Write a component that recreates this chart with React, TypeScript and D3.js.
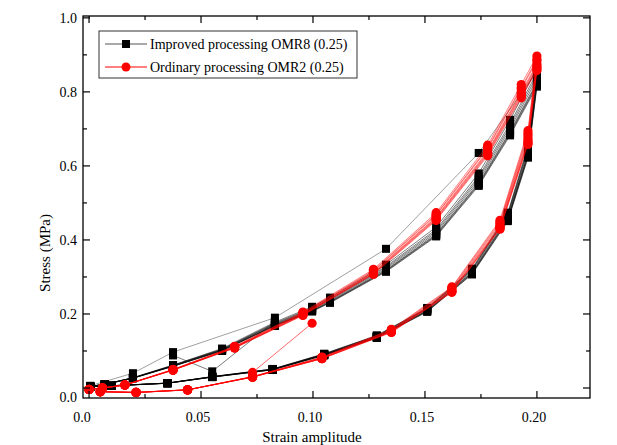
import React from "react";
import * as d3 from "d3";

// ---------- data ----------
// Improved processing OMR8 (0.25): typical cycle
const omr8LoadStrain = [0.0005, 0.007, 0.0196, 0.0375, 0.0594, 0.083, 0.0996, 0.1076, 0.1326, 0.155, 0.174, 0.188, 0.2];
const omr8LoadStress = [0.004, 0.01, 0.027, 0.06, 0.103, 0.172, 0.212, 0.236, 0.322, 0.42, 0.56, 0.7, 0.835];
const omr8UnloadStrain = [0.196, 0.187, 0.171, 0.151, 0.1285, 0.105, 0.082, 0.055, 0.035, 0.01, 0.0005];
const omr8UnloadStress = [0.635, 0.46, 0.313, 0.21, 0.138, 0.09, 0.05, 0.03, 0.013, 0.006, 0.004];
// first (virgin) loading of OMR8
const omr8FirstStrain = [0.0005, 0.0196, 0.0375, 0.083, 0.1326, 0.174, 0.2];
const omr8FirstStress = [0.006, 0.04, 0.097, 0.19, 0.376, 0.635, 0.855];
// stray connecting path of OMR8
const omr8ExtraStrain = [0.0375, 0.055, 0.083];
const omr8ExtraStress = [0.088, 0.045, 0.18];
// per-cycle spread of the bundle
const omr8LoadScale = [1.035, 1.02, 1.01, 1.0, 0.99, 0.985, 0.98, 0.975];
const omr8UnloadScale = [1.03, 1.02, 1.01, 1.0, 0.995, 0.99, 0.985, 0.98];

// Ordinary processing OMR2 (0.25): typical cycle
const omr2LoadStrain = [0.0, 0.006, 0.016, 0.0375, 0.065, 0.0955, 0.127, 0.155, 0.178, 0.193, 0.2];
const omr2LoadStress = [-0.004, 0.0, 0.008, 0.049, 0.11, 0.2, 0.313, 0.462, 0.64, 0.8, 0.875];
const omr2UnloadStrain = [0.196, 0.1835, 0.162, 0.135, 0.104, 0.073, 0.044, 0.021, 0.005];
const omr2UnloadStress = [0.675, 0.44, 0.265, 0.154, 0.081, 0.03, -0.005, -0.012, -0.01];
// last partial loading of OMR2
const omr2TailStrain = [0.073, 0.0996];
const omr2TailStress = [0.042, 0.175];
const omr2LoadScale = [1.025, 1.015, 1.01, 1.0, 0.995, 0.99, 0.985, 0.98];
const omr2UnloadScale = [1.03, 1.02, 1.01, 1.0, 0.99, 0.985, 0.98, 0.975];

const xTicks = [0, 0.05, 0.1, 0.15, 0.2];
const xTickLabels = ["0.0", "0.05", "0.10", "0.15", "0.20"];
const xMinor = [0.025, 0.075, 0.125, 0.175];
const yTicks = [0, 0.2, 0.4, 0.6, 0.8, 1.0];
const yTickLabels = ["0.0", "0.2", "0.4", "0.6", "0.8", "1.0"];
const yMinor = [0.1, 0.3, 0.5, 0.7, 0.9];

const legendLabels = ["Improved processing OMR8 (0.25)", "Ordinary processing OMR2 (0.25)"];

type P = [number, number];
const zip = (a: number[], b: number[], s = 1): P[] => a.map((v, i) => [v, b[i] * s]);

export default function App() {
  const W = 617, H = 445;
  const L = 83, R = 590, T = 16, B = 398;
  const x = d3.scaleLinear().domain([-0.0027, 0.2237]).range([L, R]);
  const y = d3.scaleLinear().domain([-0.027, 1.005]).range([B, T]);
  const line = d3.line<P>().x((d) => x(d[0])).y((d) => y(d[1]));
  const font = "'Liberation Serif', 'Times New Roman', serif";

  const cycles = (ls: number[], lS: number[], us: number[], uS: number[], sl: number[], su: number[]) =>
    sl.map((f, k) => [...zip(ls, lS, f), ...zip(us, uS, su[k])]);

  const blackCycles = [
    [...zip(omr8FirstStrain, omr8FirstStress), ...zip(omr8UnloadStrain, omr8UnloadStress, 1.02)],
    ...cycles(omr8LoadStrain, omr8LoadStress, omr8UnloadStrain, omr8UnloadStress, omr8LoadScale, omr8UnloadScale),
  ];
  const blackExtra = zip(omr8ExtraStrain, omr8ExtraStress);
  const redCycles = cycles(omr2LoadStrain, omr2LoadStress, omr2UnloadStrain, omr2UnloadStress, omr2LoadScale, omr2UnloadScale);
  const redTail = zip(omr2TailStrain, omr2TailStress);

  const sq = 8;
  const r = 4.6;

  return (
    <svg width={W} height={H} style={{ position: "absolute", left: 0, top: 0, background: "#fff" }} fontFamily={font}>
      <rect x={0} y={0} width={W} height={H} fill="#fff" />
      {/* black series */}
      <g>
        {blackCycles.map((c, i) => (
          <path key={i} d={line(c) || ""} fill="none" stroke={i === 0 ? "#444" : "#000"} strokeWidth={0.6} strokeOpacity={0.85} />
        ))}
        <path d={line(blackExtra) || ""} fill="none" stroke="#222" strokeWidth={0.6} />
        {blackCycles.map((c, i) =>
          c.map((p, j) => (
            <rect key={i + "-" + j} x={x(p[0]) - sq / 2} y={y(p[1]) - sq / 2} width={sq} height={sq} fill="#000" />
          ))
        )}
        {blackExtra.map((p, j) => (
          <rect key={"e" + j} x={x(p[0]) - sq / 2} y={y(p[1]) - sq / 2} width={sq} height={sq} fill="#000" />
        ))}
      </g>
      {/* red series */}
      <g>
        {redCycles.map((c, i) => (
          <path key={i} d={line(c) || ""} fill="none" stroke="#ff0000" strokeWidth={0.6} strokeOpacity={0.85} />
        ))}
        <path d={line(redTail) || ""} fill="none" stroke="#ff0000" strokeWidth={0.6} />
        {redCycles.map((c, i) =>
          c.map((p, j) => <circle key={i + "-" + j} cx={x(p[0])} cy={y(p[1])} r={r} fill="#ff0000" />)
        )}
        {redTail.map((p, j) => (
          <circle key={"t" + j} cx={x(p[0])} cy={y(p[1])} r={r} fill="#ff0000" />
        ))}
      </g>

      {/* frame */}
      <rect x={L} y={T} width={R - L} height={B - T} fill="none" stroke="#000" strokeWidth={1.3} />
      {/* x ticks */}
      {xTicks.map((t, i) => (
        <g key={"xt" + i}>
          <line x1={x(t)} x2={x(t)} y1={B} y2={B - 7} stroke="#000" strokeWidth={1.2} />
          <line x1={x(t)} x2={x(t)} y1={T} y2={T + 7} stroke="#000" strokeWidth={1.2} />
          <text x={x(t) - (i === 0 ? 7 : 3)} y={422} fontSize={14} textAnchor="middle" fill="#000">
            {xTickLabels[i]}
          </text>
        </g>
      ))}
      {xMinor.map((t, i) => (
        <g key={"xm" + i}>
          <line x1={x(t)} x2={x(t)} y1={B} y2={B - 4} stroke="#000" strokeWidth={1.2} />
          <line x1={x(t)} x2={x(t)} y1={T} y2={T + 4} stroke="#000" strokeWidth={1.2} />
        </g>
      ))}
      {/* y ticks */}
      {yTicks.map((t, i) => (
        <g key={"yt" + i}>
          <line x1={L} x2={L + 7} y1={y(t)} y2={y(t)} stroke="#000" strokeWidth={1.2} />
          <line x1={R} x2={R - 7} y1={y(t)} y2={y(t)} stroke="#000" strokeWidth={1.2} />
          <text x={77} y={y(t) + (i === 0 ? 14 : 5)} fontSize={14} textAnchor="end" fill="#000">
            {yTickLabels[i]}
          </text>
        </g>
      ))}
      {yMinor.map((t, i) => (
        <g key={"ym" + i}>
          <line x1={L} x2={L + 4} y1={y(t)} y2={y(t)} stroke="#000" strokeWidth={1.2} />
          <line x1={R} x2={R - 4} y1={y(t)} y2={y(t)} stroke="#000" strokeWidth={1.2} />
        </g>
      ))}

      {/* axis titles */}
      <text x={312} y={442} fontSize={15} textAnchor="middle" fill="#000">Strain amplitude</text>
      <text transform="translate(50,253) rotate(-90)" fontSize={15} textAnchor="middle" fill="#000">Stress (MPa)</text>

      {/* legend */}
      <rect x={99} y={31} width={258} height={47} fill="#fff" stroke="#333" strokeWidth={1} />
      <line x1={105} x2={147} y1={44} y2={44} stroke="#555" strokeWidth={1} />
      <rect x={126 - 4} y={44 - 4} width={8} height={8} fill="#000" />
      <text x={150} y={49} fontSize={14} fill="#000">{legendLabels[0]}</text>
      <line x1={105} x2={147} y1={67} y2={67} stroke="#ff0000" strokeWidth={1} />
      <circle cx={126} cy={67} r={4.5} fill="#ff0000" />
      <text x={150} y={72} fontSize={14} fill="#000">{legendLabels[1]}</text>
    </svg>
  );
}
